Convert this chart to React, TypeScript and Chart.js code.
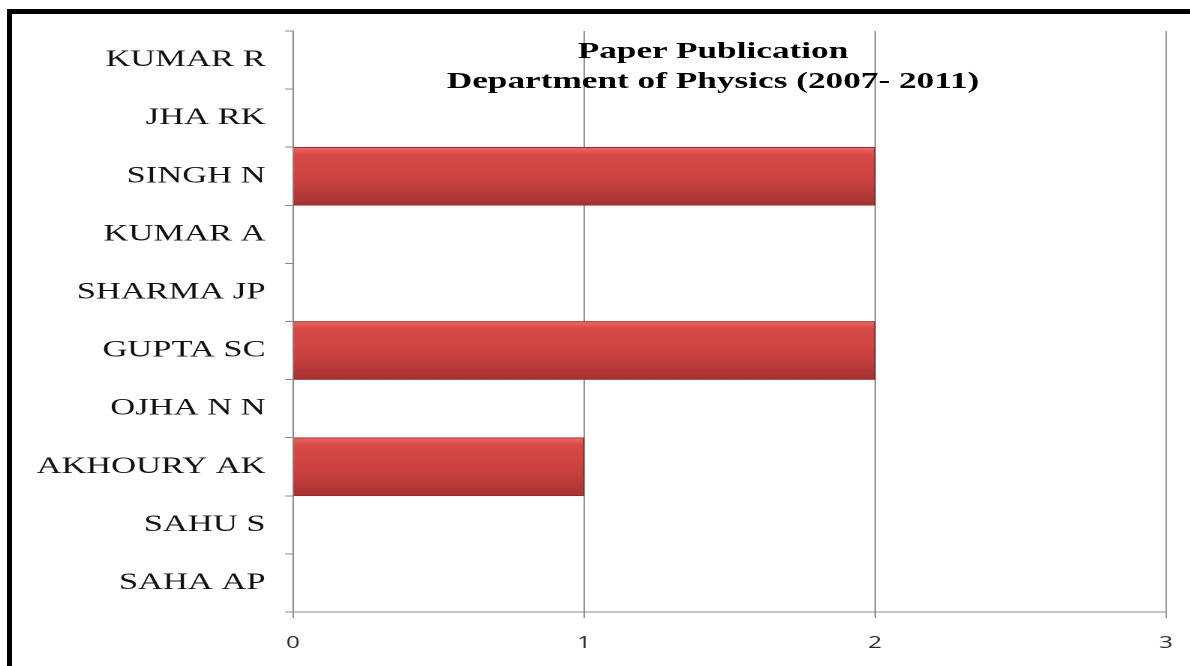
import React, { useEffect, useRef } from "react";
import { Chart, registerables } from "chart.js";

Chart.register(...registerables);

const categories = [
  "KUMAR R",
  "JHA RK",
  "SINGH N",
  "KUMAR A",
  "SHARMA JP",
  "GUPTA SC",
  "OJHA N N",
  "AKHOURY AK",
  "SAHU S",
  "SAHA AP",
];
const publications = [0, 0, 2, 0, 0, 2, 0, 1, 0, 0];
const xTicks = [0, 1, 2, 3];
const titleLines = ["Paper Publication", "Department of Physics (2007- 2011)"];

// horizontal stretch of the reference picture
const S = 1.5;
const W = Math.round(1190 / S);
const H = 666;

export default function App() {
  const ref = useRef<HTMLCanvasElement>(null);

  useEffect(() => {
    const canvas = ref.current;
    if (!canvas) return;
    const chartLeft = 293 / S;
    const chartRight = 1166 / S;
    const chart = new Chart(canvas, {
      type: "bar",
      data: {
        labels: categories,
        datasets: [
          {
            data: publications,
            barPercentage: 1,
            categoryPercentage: 1,
            borderWidth: 1,
            borderColor: "#962a2a",
            backgroundColor: (c: any) => {
              const ch = c.chart;
              const area = ch.chartArea;
              if (!area) return "#cc4242";
              const half = (area.bottom - area.top) / categories.length / 2;
              const yc = ch.scales.y.getPixelForValue(c.dataIndex);
              const g = ch.ctx.createLinearGradient(0, yc - half, 0, yc + half);
              g.addColorStop(0, "#ee6a66");
              g.addColorStop(0.12, "#d84a47");
              g.addColorStop(0.55, "#cc4240");
              g.addColorStop(1, "#a53333");
              return g;
            },
          },
        ],
      },
      options: {
        indexAxis: "y",
        animation: false,
        responsive: false,
        devicePixelRatio: 2,
        layout: {
          padding: { left: 0, top: 31, right: W - chartRight, bottom: 0 },
        },
        plugins: {
          legend: { display: false },
          title: { display: false },
          tooltip: { enabled: false },
        },
        scales: {
          x: {
            min: 0,
            max: 3,
            afterBuildTicks: (scale: any) => {
              scale.ticks = xTicks.map((v) => ({ value: v }));
            },
            afterFit: (scale: any) => {
              scale.height = H - 612;
              scale.paddingLeft = 0;
              scale.paddingRight = 0;
            },
            ticks: {
              stepSize: 1,
              color: "#2a2a2a",
              padding: 16,
              font: { family: "'Open Sans', 'DejaVu Sans', sans-serif", size: 16 },
            },
            grid: {
              color: "#8a8a8a",
              lineWidth: 0.9,
              tickLength: 6,
            },
            border: { color: "#8a8a8a", width: 1 },
          },
          y: {
            afterFit: (scale: any) => {
              scale.width = chartLeft;
            },
            ticks: {
              color: "#111111",
              padding: 13,
              font: { family: "'Liberation Serif', 'Times New Roman', serif", size: 23 },
            },
            grid: {
              drawOnChartArea: false,
              color: "#8a8a8a",
              lineWidth: 1,
              tickLength: 5.3,
              offset: true,
            },
            border: { color: "#8a8a8a", width: 0.9 },
          },
        },
      },
    } as any);
    return () => chart.destroy();
  }, []);

  return (
    <div
      style={{
        position: "fixed",
        left: 0,
        top: 0,
        width: 1190,
        height: 666,
        background: "#ffffff",
        overflow: "hidden",
      }}
    >
      <div
        style={{
          position: "absolute",
          left: 0,
          top: 0,
          width: W,
          height: H,
          transform: `scaleX(${S})`,
          transformOrigin: "0 0",
        }}
      >
        <canvas ref={ref} width={W} height={H} style={{ display: "block" }} />
        <div
          style={{
            position: "absolute",
            left: 713 / S - 300,
            width: 600,
            top: 35,
            textAlign: "center",
            fontFamily: "'Liberation Serif', 'Times New Roman', serif",
            fontWeight: "bold",
            fontSize: 23.5,
            lineHeight: "30px",
            color: "#000000",
          }}
        >
          {titleLines.map((t) => (
            <div key={t}>{t}</div>
          ))}
        </div>
      </div>
      <div
        style={{
          position: "absolute",
          left: 7,
          top: 9,
          width: 1300,
          height: 800,
          borderLeft: "5px solid #000",
          borderTop: "5px solid #000",
          pointerEvents: "none",
        }}
      />
    </div>
  );
}
